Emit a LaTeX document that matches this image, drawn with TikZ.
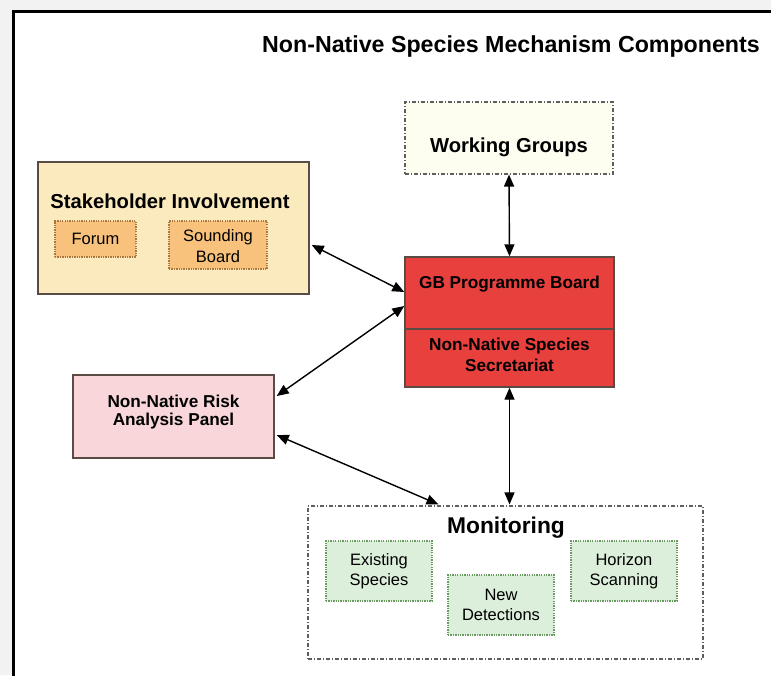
\documentclass[tikz,border=0pt]{standalone}
\usepackage{fontspec}
\setmainfont{Liberation Sans}
\usetikzlibrary{arrows.meta}

\definecolor{pagegray}{HTML}{F2F2F2}
\definecolor{boxline}{HTML}{5A4C44}
\definecolor{stakefill}{HTML}{FBEABD}
\definecolor{orangefill}{HTML}{F8C27C}
\definecolor{orangeline}{HTML}{A87840}
\definecolor{wgfill}{HTML}{FDFDF0}
\definecolor{dashgray}{HTML}{5E5E5E}
\definecolor{gbred}{HTML}{E8403D}
\definecolor{riskpink}{HTML}{F9D6D9}
\definecolor{greenfill}{HTML}{DCEFDA}
\definecolor{greenline}{HTML}{6A9A62}

\tikzset{
  solidbox/.style={draw=boxline, line width=1.4pt, inner sep=0pt},
  dashdotbox/.style={draw=dashgray, line width=1.1pt, inner sep=0pt,
    dash pattern=on 4pt off 2pt on 1pt off 2pt},
  orangebox/.style={draw=orangeline, fill=orangefill, line width=1.1pt, inner sep=0pt,
    dash pattern=on 1.3pt off 1.1pt, align=center,
    font=\fontsize{16.5}{20}\selectfont},
  greenbox/.style={draw=greenline, fill=greenfill, line width=1.1pt, inner sep=0pt,
    dash pattern=on 1.3pt off 1.1pt, align=center,
    font=\fontsize{16.5}{19.5}\selectfont},
  boldlabel/.style={font=\bfseries\fontsize{17.2}{21}\selectfont, align=center, inner sep=0pt},
  biglabel/.style={font=\bfseries\fontsize{20.2}{24}\selectfont, inner sep=0pt},
  link/.style={{Triangle[length=12pt,width=10pt]}-{Triangle[length=12pt,width=10pt]}, line width=1.4pt, black},
}

\begin{document}
\begin{tikzpicture}[x=1pt, y=-1pt]
  \useasboundingbox (0,0) rectangle (771,675);
  \clip (0,0) rectangle (771,675);

  % page background and outer frame
  \fill[pagegray] (0,0) rectangle (771,675);
  \draw[line width=3pt, fill=white] (13.5,11.5) rectangle (790,700);

  % title
  \node[font=\bfseries\fontsize{23.2}{28}\selectfont, inner sep=0pt] (title) at (511,46)
    {Non-Native Species Mechanism Components};

  % stakeholder involvement group
  \node[solidbox, fill=stakefill, minimum width=271pt, minimum height=132pt] (stake) at (173.5,228) {};
  \node[biglabel] (staketitle) at (170,201) {Stakeholder Involvement};
  \node[orangebox, minimum width=81pt, minimum height=36pt] (forum) at (95.5,239) {Forum};
  \node[orangebox, minimum width=98pt, minimum height=48pt] (sounding) at (218,245) {\strut\smash{Sounding}\\[1pt]Board};

  % working groups
  \node[dashdotbox, fill=wgfill, minimum width=208pt, minimum height=72pt] (wg) at (509,138) {};
  \node[biglabel] (wgtext) at (509,147) {Working Groups};

  % programme board and secretariat
  \node[solidbox, fill=gbred, minimum width=209pt, minimum height=72pt] (gb) at (509.5,293) {};
  \node[solidbox, fill=gbred, minimum width=209pt, minimum height=58pt] (sec) at (509.5,358) {};
  \node[boldlabel] (gbtext) at (509.5,284) {GB Programme Board};
  \node[boldlabel] (sectext) at (509.5,355) {Non-Native Species\\Secretariat};

  % risk analysis panel
  \node[solidbox, fill=riskpink, minimum width=201pt, minimum height=83pt] (risk) at (173.5,416.5) {};
  \node[boldlabel, font=\bfseries\fontsize{17.2}{18.5}\selectfont] (risktext) at (173.5,412) {Non-Native Risk\\Analysis Panel};

  % monitoring group
  \node[dashdotbox, fill=white, minimum width=395pt, minimum height=153pt] (mon) at (505.5,582.5) {};
  \node[font=\bfseries\fontsize{22.8}{27}\selectfont, inner sep=0pt] (montitle) at (506,528) {Monitoring};
  \node[greenbox, minimum width=106pt, minimum height=60pt] (existing) at (379,571) {Existing\\Species};
  \node[greenbox, minimum width=106pt, minimum height=60pt] (newdet) at (501,605) {New\\Detections};
  \node[greenbox, minimum width=106pt, minimum height=60pt] (horizon) at (624,571) {Horizon\\Scanning};

  % connectors
  \draw[link] (wg.south) -- (gb.north);
  \draw[link] ([xshift=2pt,yshift=-17pt]stake.east) -- ([yshift=1pt]gb.west);
  \draw[link] ([xshift=2pt,yshift=20.5pt]risk.east) -- ([yshift=-13pt]gb.west);
  \draw[link] ([xshift=2pt,yshift=-18.5pt]risk.east) -- ([xshift=-67pt,yshift=1pt]mon.north);
  \draw[link] (sec.south) -- ([yshift=1pt]sec.south |- mon.north);
\end{tikzpicture}
\end{document}
